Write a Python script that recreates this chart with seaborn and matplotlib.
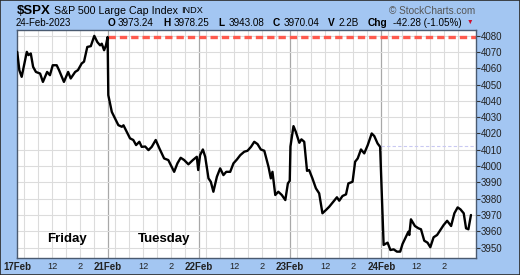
import numpy as np
import pandas as pd
import matplotlib
matplotlib.use("Agg")
import matplotlib.pyplot as plt
from matplotlib.patches import Rectangle
import seaborn as sns

# ---------------- data ----------------
day_labels = ["17Feb", "21Feb", "22Feb", "23Feb", "24Feb"]
day_names = ["Friday", "Tuesday"]

# minutes after the open, and price, for each session
fri_min = [1, 10, 20, 42, 49, 59, 69, 81, 99, 111, 129, 141, 153, 170, 180, 201, 219, 230,
           249, 261, 277, 287, 301, 316, 331, 344, 356, 363, 373, 381, 388]
fri_px = [4070, 4058.8, 4054.7, 4070, 4068, 4069, 4060.8, 4057.7, 4056.7, 4051.6, 4057.7,
          4055.7, 4061.8, 4061.8, 4058.8, 4051.6, 4057.7, 4053.7, 4057.7, 4058.8, 4062.9,
          4064, 4073, 4073.5, 4079.8, 4076, 4074, 4075, 4071, 4074, 4079.1]

tue_min = [1, 16, 30, 44, 59, 66, 80, 94, 108, 120, 134, 144, 159, 173, 187, 204, 220, 240,
           258, 283, 297, 311, 326, 344, 363, 380, 386]
tue_px = [4043.5, 4033.2, 4029.2, 4025.1, 4024.1, 4025, 4021, 4017, 4016, 4012.9, 4014.9,
          4011.8, 4012, 4009.8, 4011.8, 4016, 4010.8, 4004.7, 4003.7, 3996.5, 4001.7, 4005.1,
          4003.7, 4001.1, 4003.7, 4005.7, 3997.6]

wed_min = [4, 16, 26, 40, 50, 61, 76, 90, 104, 116, 133, 147, 162, 176, 193, 207, 222, 236,
           250, 264, 279, 297, 307, 314, 326, 339, 354, 369, 380, 388]
wed_px = [4006.7, 4010.2, 4005.7, 3992.5, 3990.4, 3984.3, 3993.5, 3998.6, 3994.5, 3996.5,
          3996.5, 4001.7, 4004.1, 4006.7, 4008.8, 4009.4, 4011.8, 4014.9, 4013.5, 4010.2,
          4009.4, 3999.6, 3992.5, 3996.5, 3982.3, 3984.3, 3982.3, 3979.2, 3989.4, 3991]

thu_min = [1, 14, 24, 39, 48, 60, 72, 81, 95, 110, 124, 138, 153, 167, 181, 200, 210, 224,
           239, 249, 267, 278, 289, 303, 317, 332, 349, 360, 374, 385]
thu_px = [4012, 4024.5, 4021, 4014.3, 4016.4, 4014.9, 3997.1, 3997.6, 3992.5, 3986.4, 3983.3,
          3971.1, 3973.1, 3975.1, 3977.6, 3980.9, 3978.8, 3981.7, 3982.7, 3989.4, 3990.4,
          4002.7, 4004.7, 4010.2, 4007.8, 4012.9, 4020, 4018.4, 4013.9, 4011.8]

fri2_min = [10, 27, 39, 53, 67, 81, 91, 106, 116, 120, 127, 144, 159, 170, 184, 198, 210, 224,
            239, 253, 267, 282, 299, 313, 327, 339, 353, 363, 373, 384]
fri2_px = [3951.7, 3953.1, 3948.6, 3949, 3947.6, 3947.6, 3952.3, 3956.8, 3959.8, 3957.8,
           3967.4, 3963.3, 3961.9, 3961.3, 3954.3, 3953.1, 3950.3, 3956.4, 3957.8, 3960.8,
           3963.9, 3966.5, 3963.3, 3971.1, 3974.7, 3973.5, 3971.1, 3961.9, 3961.3, 3970.04]

prev_close_fri = 4079.09
prev_close_thu = 4012.32
y_ticks = list(range(3950, 4081, 10))

header_vals = ["3973.24", "3978.25", "3943.08", "3970.04", "2.2B", "-42.28 (-1.05%)"]

# ---------------- build frame ----------------
SESSION = 390.0
sessions = [(fri_min, fri_px), (tue_min, tue_px), (wed_min, wed_px),
            (thu_min, thu_px), (fri2_min, fri2_px)]
rows = []
for i, (mins, pxs) in enumerate(sessions):
    for m, p in zip(mins, pxs):
        rows.append({"t": i + m / SESSION, "price": p})
df = pd.DataFrame(rows)

# ---------------- figure ----------------
sns.set_theme(style="white")
plt.rcParams["font.family"] = ["Liberation Sans", "DejaVu Sans"]

W, H = 520, 275
BG = "#a3c6f2"
fig = plt.figure(figsize=(W / 100, H / 100), dpi=100, facecolor=BG)
L, R, T, B = 17, 476, 29.5, 258
ax = fig.add_axes([L / W, 1 - B / H, (R - L) / W, (B - T) / H])
ax.set_facecolor("white")

x_max = 5.04
ax.set_xlim(0, x_max)
ax.set_ylim(3943.7, 4083.7)

# grid
for i in range(5):
    for m in [30, 90, 150, 210, 270, 330]:
        ax.axvline(i + m / SESSION, color="#dcdcdc", lw=0.8, zorder=0)
    if i > 0:
        ax.axvline(i, color="#a8a8a8", lw=0.9, zorder=0)
for y in y_ticks:
    ax.axhline(y, color="#dcdcdc", lw=0.8, zorder=0)

# reference lines
ax.hlines(prev_close_fri, 1, x_max, colors="#ff5a4e", lw=2.4,
          linestyles=(0, (2.2, 1.2)), zorder=2)
ax.hlines(prev_close_thu, 4, x_max, colors="#c9c9f2", lw=0.8,
          linestyles=(0, (3, 2)), zorder=1)

sns.lineplot(data=df, x="t", y="price", color="black", lw=1.7, ax=ax, zorder=3)

# axes styling
for s in ax.spines.values():
    s.set_color("#4a5a70")
    s.set_linewidth(1.0)
ax.set_xlabel("")
ax.set_ylabel("")

ax.yaxis.tick_right()
ax.set_yticks(y_ticks)
ax.set_yticklabels([str(v) for v in y_ticks])
ax.tick_params(axis="y", which="both", right=True, length=3, width=0.8, color="#333333",
               pad=0.5, labelsize=7, labelcolor="#222222")

xt, xl = [], []
for i, d in enumerate(day_labels):
    xt += [i, i + 150 / SESSION, i + 270 / SESSION]
    xl += [d, "12", "2"]
ax.set_xticks(xt)
ax.set_xticklabels(xl)
ax.tick_params(axis="x", bottom=True, length=0, pad=3, labelsize=6.6, labelcolor="#222222")
for lab in ax.get_xticklabels():
    if "Feb" in lab.get_text():
        lab.set_fontweight("bold")
        lab.set_fontsize(7)

# day names
ax.text(0.544, 3955.3, day_names[0], fontsize=9.5, fontweight="bold", ha="center",
        va="center", color="black")
ax.text(1.61, 3955.3, day_names[1], fontsize=9.5, fontweight="bold", ha="center",
        va="center", color="black")

# header texts (pixel coords)
def ftext(x, y, s, **kw):
    fig.text(x / W, 1 - y / H, s, va="center", **kw)

ftext(16.5, 10.5, "$SPX", fontsize=9.5, fontweight="bold", color="black")
ftext(54, 10.8, "S&P 500 Large Cap Index", fontsize=7.7, color="black")
ftext(181, 10.8, "INDX", fontsize=6.6, color="black")
ftext(475, 10.5, "\u00a9 StockCharts.com", fontsize=7.2, color="#555555", ha="right")
ftext(16, 23, "24-Feb-2023", fontsize=7, color="black")
labels = ["O", "H", "L", "C", "V", "Chg"]
lx = [108, 163.5, 218.5, 273, 328, 368]
vx = [117.5, 174, 228.5, 283.5, 338.5, 393]
for k in range(6):
    ftext(lx[k], 23, labels[k], fontsize=7.3, fontweight="bold", color="black")
    ftext(vx[k], 23, header_vals[k], fontsize=7.1, color="black")
ftext(467, 22.5, "\u25bc", fontsize=4.8, color="#cc1030")

# outer border
fig.patches.append(Rectangle((0, 0), 1, 1, transform=fig.transFigure, fill=False,
                             edgecolor="#2a2a2a", lw=1.2))

fig.savefig("out.png", dpi=100, facecolor=BG)
